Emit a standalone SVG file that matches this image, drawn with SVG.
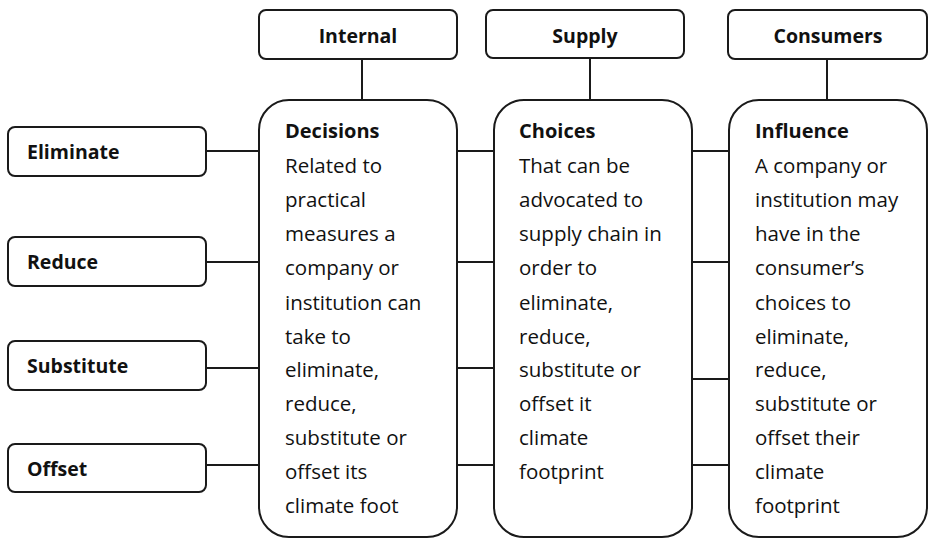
<svg xmlns="http://www.w3.org/2000/svg" width="929" height="538" viewBox="0 0 929 538">
<style>
.box{fill:#fff;stroke:#1a1a1a;stroke-width:2}
.lbl{font-family:"Open Sans","Noto Sans",sans-serif;font-weight:bold;font-size:19.5px;fill:#111}
.ttl{font-family:"Open Sans","Noto Sans",sans-serif;font-weight:bold;font-size:20px;fill:#111}
.body{font-family:"Open Sans","Noto Sans",sans-serif;font-size:20.5px;fill:#111}
.conn line{stroke:#1a1a1a;stroke-width:2}
</style>
<rect width="929" height="538" fill="#fff"/>
<g class="conn">
<line x1="362" y1="59" x2="362" y2="100"/>
<line x1="590" y1="58" x2="590" y2="100"/>
<line x1="827" y1="59" x2="827" y2="100"/>
<line x1="206" y1="151" x2="259" y2="151"/>
<line x1="206" y1="262" x2="259" y2="262"/>
<line x1="206" y1="368" x2="259" y2="368"/>
<line x1="206" y1="465" x2="259" y2="465"/>
<line x1="457" y1="151" x2="494" y2="151"/>
<line x1="457" y1="262" x2="494" y2="262"/>
<line x1="457" y1="368" x2="494" y2="368"/>
<line x1="457" y1="465" x2="494" y2="465"/>
<line x1="692" y1="151" x2="729" y2="151"/>
<line x1="692" y1="262" x2="729" y2="262"/>
<line x1="692" y1="379" x2="729" y2="379"/>
<line x1="692" y1="465" x2="729" y2="465"/>
</g>
<g id="internal"><rect class="box" x="259" y="10" width="198" height="49" rx="7"/><text class="lbl" x="358" y="43" text-anchor="middle">Internal</text></g>
<g id="supply"><rect class="box" x="486" y="10" width="198" height="48" rx="7"/><text class="lbl" x="585" y="43" text-anchor="middle">Supply</text></g>
<g id="consumers"><rect class="box" x="728" y="10" width="199" height="49" rx="7"/><text class="lbl" x="828" y="43" text-anchor="middle">Consumers</text></g>
<g id="eliminate"><rect class="box" x="8" y="127" width="198" height="49" rx="7"/><text class="lbl" x="27" y="159">Eliminate</text></g>
<g id="reduce"><rect class="box" x="8" y="237" width="198" height="49" rx="7"/><text class="lbl" x="27" y="269">Reduce</text></g>
<g id="substitute"><rect class="box" x="8" y="341" width="198" height="49" rx="7"/><text class="lbl" x="27" y="373">Substitute</text></g>
<g id="offset"><rect class="box" x="8" y="444" width="198" height="48" rx="7"/><text class="lbl" x="27" y="476">Offset</text></g>
<g id="decisions"><rect class="box" x="259" y="100" width="198" height="437" rx="30"/>
<text class="ttl" x="285" y="138">Decisions</text>
<text class="body"><tspan x="285" y="173">Related to</tspan><tspan x="285" y="207">practical</tspan><tspan x="285" y="241">measures a</tspan><tspan x="285" y="275">company or</tspan><tspan x="285" y="310">institution can</tspan><tspan x="285" y="344">take to</tspan><tspan x="285" y="377">eliminate,</tspan><tspan x="285" y="411">reduce,</tspan><tspan x="285" y="445">substitute or</tspan><tspan x="285" y="479">offset its</tspan><tspan x="285" y="513">climate foot</tspan></text></g>
<g id="choices"><rect class="box" x="494" y="100" width="198" height="437" rx="30"/>
<text class="ttl" x="519" y="138">Choices</text>
<text class="body"><tspan x="519" y="173">That can be</tspan><tspan x="519" y="207">advocated to</tspan><tspan x="519" y="241">supply chain in</tspan><tspan x="519" y="275">order to</tspan><tspan x="519" y="310">eliminate,</tspan><tspan x="519" y="344">reduce,</tspan><tspan x="519" y="377">substitute or</tspan><tspan x="519" y="411">offset it</tspan><tspan x="519" y="445">climate</tspan><tspan x="519" y="479">footprint</tspan></text></g>
<g id="influence"><rect class="box" x="729" y="100" width="198" height="437" rx="30"/>
<text class="ttl" x="755" y="138">Influence</text>
<text class="body"><tspan x="755" y="173">A company or</tspan><tspan x="755" y="207">institution may</tspan><tspan x="755" y="241">have in the</tspan><tspan x="755" y="275">consumer’s</tspan><tspan x="755" y="310">choices to</tspan><tspan x="755" y="344">eliminate,</tspan><tspan x="755" y="377">reduce,</tspan><tspan x="755" y="411">substitute or</tspan><tspan x="755" y="445">offset their</tspan><tspan x="755" y="479">climate</tspan><tspan x="755" y="513">footprint</tspan></text></g>
</svg>
